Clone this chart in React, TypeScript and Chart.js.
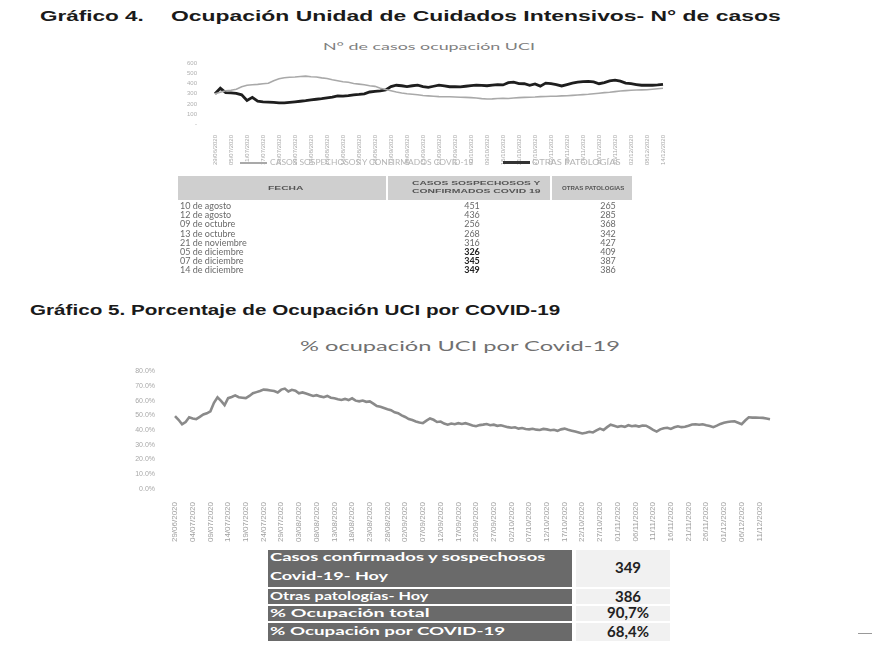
import React, { useEffect, useLayoutEffect, useRef } from "react";
import { Chart, registerables } from "chart.js";

Chart.register(...registerables);

// ---------- DATA ----------
// Gráfico 5: % ocupación UCI por Covid-19 (diario, 29/06/2020 - 14/12/2020)
const pctCovid = [
  49.5, 47.0, 44.0, 45.5, 48.7, 47.9, 47.4, 49.0, 50.6, 51.4,
  52.8, 58.5, 62.3, 59.8, 57.0, 61.7, 62.5, 63.6, 62.3, 62.0,
  61.7, 63.2, 65.0, 65.8, 66.6, 67.5, 67.3, 66.9, 66.5, 65.6,
  67.5, 68.2, 66.2, 67.4, 66.8, 65.0, 65.6, 64.8, 64.0, 63.2,
  63.7, 62.9, 62.3, 63.2, 62.0, 61.6, 61.0, 60.5, 61.2, 60.4,
  61.6, 60.0, 59.5, 60.1, 59.2, 59.5, 58.0, 56.3, 55.8, 55.0,
  54.2, 53.5, 52.1, 51.5, 50.0, 48.9, 47.5, 46.8, 45.9, 45.2,
  44.7, 46.4, 47.9, 47.0, 45.5, 45.8, 44.4, 43.7, 44.5, 44.0,
  44.7, 44.2, 44.7, 44.0, 43.2, 42.6, 43.4, 43.7, 44.1, 43.3,
  43.7, 42.9, 43.3, 42.6, 42.0, 41.6, 41.9, 41.0, 41.4, 40.7,
  40.5, 40.9, 40.3, 40.1, 40.8, 40.5, 39.9, 40.2, 39.5, 40.5,
  41.0, 40.2, 39.6, 39.0, 38.4, 37.7, 38.2, 38.9, 38.4, 39.8,
  41.0, 40.1, 42.0, 43.7, 43.0, 42.2, 42.8, 42.2, 43.3, 42.6,
  43.0, 42.4, 43.1, 43.0, 41.6, 40.2, 39.0, 40.5, 41.2, 41.6,
  40.8, 41.9, 42.6, 42.0, 42.3, 43.0, 43.8, 44.0, 43.6, 44.0,
  43.3, 42.8, 42.0, 43.0, 44.2, 45.0, 45.5, 45.8, 46.0, 45.0,
  44.0, 46.5, 48.7, 48.5, 48.6, 48.4, 48.3, 47.9, 47.4,
];

// Gráfico 4: N° de casos (cada 2 días, 29/06/2020 - 14/12/2020)
const casosCovid = [
  300, 315, 330, 336, 345, 370, 385, 390, 394, 400,
  405, 430, 450, 460, 464, 467, 472, 476, 470, 467,
  458, 452, 440, 430, 420, 414, 402, 396, 390, 380,
  374, 356, 342, 330, 318, 308, 300, 295, 290, 283,
  279, 276, 272, 270, 271, 268, 265, 264, 262, 258,
  252, 248, 250, 254, 255, 253, 258, 262, 264, 266,
  268, 272, 273, 275, 276, 279, 280, 284, 288, 292,
  295, 300, 306, 312, 316, 322, 328, 332, 336, 338,
  339, 340, 345, 350, 355,
];
const otrasPatologias = [
  300, 355, 312, 309, 305, 290, 233, 265, 226, 220,
  218, 214, 210, 209, 214, 220, 226, 232, 240, 246,
  252, 260, 266, 280, 276, 282, 290, 294, 300, 318,
  324, 330, 339, 372, 385, 380, 372, 380, 386, 372,
  364, 375, 386, 378, 370, 372, 368, 375, 382, 386,
  384, 380, 386, 392, 388, 410, 415, 402, 400, 385,
  398, 376, 406, 400, 392, 378, 392, 405, 415, 420,
  424, 418, 400, 412, 428, 436, 425, 406, 400, 392,
  385, 386, 385, 388, 394,
];

const fechasTabla = [
  "10 de agosto", "12 de agosto", "09 de octubre", "13 de octubre",
  "21 de noviembre", "05 de diciembre", "07 de diciembre", "14 de diciembre",
];
const casosTabla = ["451", "436", "256", "268", "316", "326", "345", "349"];
const otrasTabla = ["265", "285", "368", "342", "427", "409", "387", "386"];

const resumenValores = ["349", "386", "90,7%", "68,4%"];

const START = { y: 2020, m: 5, d: 29 };
function makeDates(count: number, step: number): string[] {
  const out: string[] = [];
  for (let i = 0; i < count; i++) {
    const dt = new Date(Date.UTC(START.y, START.m, START.d + i * step));
    const dd = String(dt.getUTCDate()).padStart(2, "0");
    const mm = String(dt.getUTCMonth() + 1).padStart(2, "0");
    out.push(`${dd}/${mm}/${dt.getUTCFullYear()}`);
  }
  return out;
}
const pctDates = makeDates(pctCovid.length, 1);
const casosDates = makeDates(casosCovid.length, 2);
const PCT_TICK_EVERY = 5;
const CASOS_TICK_EVERY = 3;

// ---------- HELPERS ----------
const SANS = "'Liberation Sans', Arial, sans-serif";
const CAL = "Lato, 'Open Sans', sans-serif";

function FitText(props: {
  x: number; y: number; w?: number; sx?: number; size: number; weight?: number;
  color?: string; family?: string; children: React.ReactNode;
}) {
  const { x, y, w, sx, size, weight = 400, color = "#222", family = SANS, children } = props;
  const ref = useRef<HTMLSpanElement>(null);
  useLayoutEffect(() => {
    const el = ref.current;
    if (!el) return;
    if (sx) { el.style.transform = `scaleX(${sx})`; return; }
    el.style.transform = "none";
    const nat = el.offsetWidth;
    if (nat > 0 && w) el.style.transform = `scaleX(${w / nat})`;
  }, [w, sx, children]);
  return (
    <span
      ref={ref}
      style={{
        position: "absolute", left: x, top: y, fontSize: size, fontWeight: weight,
        color, fontFamily: family, whiteSpace: "nowrap", transformOrigin: "0 0",
        lineHeight: 1,
      }}
    >
      {children}
    </span>
  );
}

function CasosChart() {
  const ref = useRef<HTMLCanvasElement>(null);
  useEffect(() => {
    const chart = new Chart(ref.current!, {
      type: "line",
      data: {
        labels: casosDates,
        datasets: [
          { label: "CASOS SOSPECHOSOS Y CONFIRMADOS COVID-19", data: casosCovid, borderColor: "#a9a9a9", borderWidth: 1.6, pointRadius: 0, tension: 0 },
          { label: "OTRAS PATOLOGÍAS", data: otrasPatologias, borderColor: "#1e1e1e", borderWidth: 2.8, pointRadius: 0, tension: 0 },
        ],
      },
      options: {
        responsive: false,
        animation: false,
        layout: { padding: { top: 8, right: 17, left: 0, bottom: 0 } },
        plugins: { legend: { display: false }, title: { display: false }, tooltip: { enabled: false } },
        scales: {
          x: {
            grid: { display: false },
            border: { display: false },
            ticks: {
              autoSkip: false, maxRotation: 90, minRotation: 90, padding: 3,
              font: { size: 6, family: SANS }, color: "#a8a8a8",
              callback: (_v: any, i: number) => (i % CASOS_TICK_EVERY === 0 ? casosDates[i] : ""),
            },
            afterFit: (s: any) => { s.height = 41; },
          },
          y: {
            min: 0, max: 600,
            grid: { display: false },
            border: { display: false },
            ticks: {
              autoSkip: false,
              stepSize: 100, padding: 10, font: { size: 6, family: SANS }, color: "#b0b0b0",
              callback: (v: any) => (v === 0 ? "-" : String(v)),
            },
            afterFit: (s: any) => { s.width = 65; },
          },
        },
      },
    });
    return () => chart.destroy();
  }, []);
  return <canvas ref={ref} width={530} height={115} style={{ position: "absolute", left: 150, top: 50 }} />;
}

function PctChart() {
  const ref = useRef<HTMLCanvasElement>(null);
  useEffect(() => {
    const chart = new Chart(ref.current!, {
      type: "line",
      data: {
        labels: pctDates,
        datasets: [
          { label: "% ocupación UCI por Covid-19", data: pctCovid, borderColor: "#8a8a8a", borderWidth: 2.6, pointRadius: 0, tension: 0 },
        ],
      },
      options: {
        responsive: false,
        animation: false,
        layout: { padding: { top: 9, right: 20, left: 0, bottom: 0 } },
        plugins: { legend: { display: false }, title: { display: false }, tooltip: { enabled: false } },
        scales: {
          x: {
            grid: { display: false },
            border: { display: false },
            ticks: {
              autoSkip: false, maxRotation: 90, minRotation: 90, padding: 5,
              font: { size: 8, family: SANS }, color: "#a0a0a0",
              callback: (_v: any, i: number) => (i % PCT_TICK_EVERY === 0 ? pctDates[i] : ""),
            },
            afterFit: (s: any) => { s.height = 56; },
          },
          y: {
            min: 0, max: 80,
            grid: { display: false },
            border: { display: false },
            ticks: {
              autoSkip: false,
              stepSize: 10, padding: 12, font: { size: 7, family: SANS }, color: "#a8a8a8",
              callback: (v: any) => `${Number(v).toFixed(1)}%`,
            },
            afterFit: (s: any) => { s.width = 75; },
          },
        },
      },
    });
    return () => chart.destroy();
  }, []);
  return <canvas ref={ref} width={690} height={190} style={{ position: "absolute", left: 100, top: 355 }} />;
}

export default function App() {
  const rowTop = (i: number) => 201 + i * 9.2;
  return (
    <div style={{ position: "absolute", left: 0, top: 0, width: 883, height: 651, background: "#fff", overflow: "hidden" }}>
      {/* Gráfico 4 heading */}
      <FitText x={40} y={8} sx={1.5} size={15} weight={700} color="#1a1a1a">Gráfico 4.</FitText>
      <FitText x={171} y={8} w={609} size={15} weight={700} color="#1a1a1a">Ocupación Unidad de Cuidados Intensivos- N° de casos</FitText>

      {/* Chart 4 title */}
      <FitText x={323} y={42} w={212} size={9} color="#808080" family={CAL}>N° de casos ocupación UCI</FitText>
      <CasosChart />

      {/* Chart 4 legend */}
      <div style={{ position: "absolute", left: 240, top: 162, width: 27, height: 2, background: "#a9a9a9" }} />
      <FitText x={270} y={159} w={203} size={7} color="#b5b5b5" family={CAL}>CASOS SOSPECHOSOS Y CONFIRMADOS COVID-19</FitText>
      <div style={{ position: "absolute", left: 503, top: 161, width: 27, height: 3, background: "#333" }} />
      <FitText x={532} y={159} w={88} size={7} color="#b5b5b5" family={CAL}>OTRAS PATOLOGÍAS</FitText>

      {/* Table 1 header */}
      <div style={{ position: "absolute", left: 178, top: 176, width: 208, height: 24, background: "#cfcfcf" }} />
      <div style={{ position: "absolute", left: 388, top: 176, width: 162, height: 24, background: "#cfcfcf" }} />
      <div style={{ position: "absolute", left: 552, top: 176, width: 80, height: 24, background: "#cfcfcf" }} />
      <FitText x={268} y={185} w={36} size={6} weight={700} color="#555">FECHA</FitText>
      <FitText x={412} y={180} w={128} size={6} weight={700} color="#555">CASOS SOSPECHOSOS Y</FitText>
      <FitText x={412} y={188} w={128} size={6} weight={700} color="#555">CONFIRMADOS COVID 19</FitText>
      <FitText x={562} y={185} w={62} size={6} weight={700} color="#555">OTRAS PATOLOGIAS</FitText>

      {/* Table 1 rows */}
      {fechasTabla.map((f, i) => (
        <React.Fragment key={f}>
          <div style={{ position: "absolute", left: 180, top: rowTop(i), fontSize: 9, lineHeight: "9px", fontFamily: CAL, color: "#6a6a6a", whiteSpace: "nowrap" }}>{f}</div>
          <div style={{ position: "absolute", left: 442, width: 60, textAlign: "center", top: rowTop(i), fontSize: 9, lineHeight: "9px", fontFamily: CAL, color: i >= 5 ? "#222" : "#6a6a6a", fontWeight: i >= 5 ? 700 : 400 }}>{casosTabla[i]}</div>
          <div style={{ position: "absolute", left: 578, width: 60, textAlign: "center", top: rowTop(i), fontSize: 9, lineHeight: "9px", fontFamily: CAL, color: "#6a6a6a" }}>{otrasTabla[i]}</div>
        </React.Fragment>
      ))}

      {/* Gráfico 5 heading */}
      <FitText x={30} y={302} w={530} size={15} weight={700} color="#1a1a1a">Gráfico 5. Porcentaje de Ocupación UCI por COVID-19</FitText>
      <FitText x={300} y={340} w={320} size={13} color="#707070" family={CAL}>% ocupación UCI por Covid-19</FitText>
      <PctChart />

      {/* Resumen table */}
      <div style={{ position: "absolute", left: 268, top: 550, width: 304, height: 37, background: "#6a6a6a" }} />
      <div style={{ position: "absolute", left: 268, top: 589, width: 304, height: 15, background: "#6a6a6a" }} />
      <div style={{ position: "absolute", left: 268, top: 606, width: 304, height: 15, background: "#6a6a6a" }} />
      <div style={{ position: "absolute", left: 268, top: 623, width: 304, height: 18, background: "#6a6a6a" }} />
      {[550, 589, 606, 623].map((t, i) => (
        <div key={t} style={{ position: "absolute", left: 576, top: t, width: 94, height: [37, 15, 15, 18][i], background: "#f1f1f1" }} />
      ))}
      <FitText x={270} y={551} w={276} size={11} weight={700} color="#fff" family={CAL}>Casos confirmados y sospechosos</FitText>
      <FitText x={270} y={570} w={118} size={11} weight={700} color="#fff" family={CAL}>Covid-19- Hoy</FitText>
      <FitText x={270} y={590} w={158} size={11} weight={700} color="#fff" family={CAL}>Otras patologías- Hoy</FitText>
      <FitText x={270} y={607} w={160} size={11} weight={700} color="#fff" family={CAL}>% Ocupación total</FitText>
      <FitText x={270} y={625} w={235} size={11} weight={700} color="#fff" family={CAL}>% Ocupación por COVID-19</FitText>
      {resumenValores.map((v, i) => (
        <div key={v} style={{ position: "absolute", left: 576, width: 104, textAlign: "center", top: [560, 589, 605, 624][i], fontSize: 15, lineHeight: "15px", fontWeight: 700, fontFamily: CAL, color: "#222" }}>{v}</div>
      ))}

      <div style={{ position: "absolute", left: 858, top: 633, width: 14, height: 1, background: "#999" }} />
    </div>
  );
}
